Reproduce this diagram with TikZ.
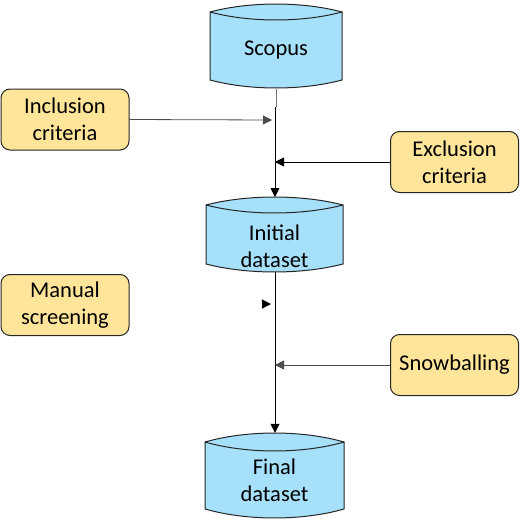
\documentclass[tikz,border=0pt]{standalone}
\usepackage{fontspec}
\setmainfont{Carlito}
\usetikzlibrary{arrows.meta}
\definecolor{boxyellow}{RGB}{255,229,153}
\definecolor{cylblue}{RGB}{166,224,250}
\tikzset{
  crit/.style={draw=black!85, line width=1pt, fill=boxyellow, rounded corners=9pt,
    minimum width=128pt, minimum height=61pt, align=center, inner sep=2pt,
    font=\fontsize{22.5}{27}\selectfont},
  cylshape/.style={draw=black!85, line width=1pt, fill=cylblue},
  cyltext/.style={align=center, inner sep=0pt, font=\fontsize{22.5}{27}\selectfont},
  cylbox/.style={inner sep=0pt, draw=none},
  arr/.style={-{Triangle[length=9pt,width=9pt]}, line width=0.8pt, black},
  garr/.style={-{Triangle[length=9pt,width=9pt]}, line width=0.8pt, black!70},
}
% #1 L, #2 R, #3 yT (corner), #4 yB (corner), #5 bulge
\newcommand{\cylpath}[5]{%
  \path[cylshape] (#1,#3) .. controls ({#1+0.3*(#2-#1)},{#3-1.33*#5}) and ({#2-0.3*(#2-#1)},{#3-1.33*#5}) .. (#2,#3)
     -- (#2,#4) .. controls ({#2-0.3*(#2-#1)},{#4+1.33*#5}) and ({#1+0.3*(#2-#1)},{#4+1.33*#5}) .. (#1,#4) -- cycle;
  \draw[cylshape, fill=none] (#1,#3) .. controls ({#1+0.3*(#2-#1)},{#3+1.33*#5}) and ({#2-0.3*(#2-#1)},{#3+1.33*#5}) .. (#2,#3);
}
\begin{document}
\begin{tikzpicture}[x=1pt,y=-1pt]
\useasboundingbox (0,0) rectangle (520,520);
% cylinders
\cylpath{210}{342}{12}{80}{8}
\node[cylbox, minimum width=132pt, minimum height=86pt] (scopus) at (276,46) {};
\node[cyltext] (scopustxt) at (276,50) {Scopus};

\cylpath{206}{343}{205}{264}{8}
\node[cylbox, minimum width=137pt, minimum height=75pt] (init) at (274.5,234.5) {};
\node[cyltext] (inittxt) at (274.5,246) {Initial\\dataset};

\cylpath{205}{344}{442}{509}{9}
\node[cylbox, minimum width=139pt, minimum height=85pt] (final) at (274.5,475.5) {};
\node[cyltext] (finaltxt) at (274.5,480) {Final\\dataset};

% criteria boxes
\node[crit] (inc) at (65,119.5) {Inclusion\\criteria};
\node[crit] (exc) at (454.5,162) {Exclusion\\criteria};
\node[crit] (man) at (65,305) {Manual\\screening};
\node[crit] (snow) at (454.5,365) {Snowballing};

% connector coordinates
\coordinate (incend) at (272,120);
\coordinate (excend) at (275,162);
\coordinate (manend) at (271,304);
\coordinate (snowend) at (275,365);

% connectors
\draw[black!55, line width=0.8pt] (scopus.south) -- (276,107);
\draw[arr] (275,107) -- (275,197);
\draw[garr] (inc.east) -- (incend);
\draw[arr] (exc.west) -- (excend);
\draw[arr, shorten <=134pt] (man.east) -- (manend);
\draw[arr] (init.south -| 275,0) -- (final.north -| 275,0);
\draw[garr] (snow.west) -- (snowend);
\end{tikzpicture}
\end{document}
